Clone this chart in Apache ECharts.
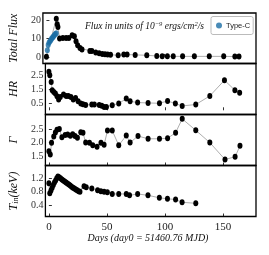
<!DOCTYPE html>
<html><head><meta charset="utf-8">
<script src="https://cdn.jsdelivr.net/npm/echarts@6/dist/echarts.min.js"></script>
<style>html,body{margin:0;padding:0;background:#fff}#c{width:269px;height:255px}</style>
</head><body><div id="c"></div>
<script>
const fluxDays = [0, 8.4, 9.2, 9.8, 11.2, 14, 16.8, 19.1, 21.9, 23.8, 25.2, 26.6, 28.6, 30.3, 37, 38.7, 42, 44.9, 47.6, 49.9, 52.1, 54.6, 61.1, 65.9, 68.7, 75.6, 85.5, 94, 98.6, 103, 108, 116, 126, 138.7, 151, 160.5, 164];
const fluxVals = [0.1, 20.9, 17.8, 16.3, 10.0, 10.4, 10.4, 10.4, 11.8, 11.3, 8.6, 6.4, 4.9, 4.0, 3.3, 3.2, 2.4, 2.0, 1.6, 1.5, 1.3, 1.2, 0.9, 1.3, 1.3, 1.1, 0.9, 0.5, 0.4, 0.3, 0.3, 0.3, 0.3, 0.3, 0.3, 0.2, 0.2];
const typeCDays = [0.8, 1.5, 2.2, 3.0, 3.8, 4.5, 5.3, 6.0, 6.8, 7.6, 8.4];
const typeCVals = [3.6, 6.5, 7.8, 8.6, 9.3, 10.0, 10.6, 11.2, 11.8, 12.5, 13.0];
const hrDays = [0, 0.8, 2, 2.9, 4.2, 5.6, 7, 8.4, 9.8, 12.6, 14.9, 16.8, 19, 21, 23, 25.2, 27.5, 29.4, 31.7, 37, 39.2, 43.4, 45.6, 47.6, 49.6, 54.6, 60.2, 66.7, 70, 76.5, 85.5, 95.3, 102.3, 109, 114.9, 126.6, 138.7, 151.3, 160.3, 164.4];
const hrVals = [2.74, 2.5, 2.02, 1.43, 1.31, 1.19, 1.0, 0.76, 0.95, 1.12, 1.02, 1.02, 0.95, 0.76, 0.88, 0.64, 0.48, 0.43, 0.38, 0.41, 0.41, 0.38, 0.33, 0.24, 0.24, 0.36, 0.48, 0.83, 0.64, 0.55, 0.52, 0.5, 0.66, 0.48, 0.31, 0.41, 1.02, 2.14, 1.43, 1.24];
const gammaDays = [0, 1.2, 2.3, 4.2, 5.6, 7, 9, 11.2, 14, 16.2, 18.5, 20.5, 22.5, 24.6, 27.5, 29.4, 31.7, 35, 37.8, 41.5, 44.9, 47.6, 50.5, 54.6, 60.2, 66.7, 70, 76.8, 85.5, 95.3, 102.3, 109.2, 114.9, 126.6, 138.7, 151.8, 160.5, 164.7];
const gammaVals = [1.68, 1.56, 1.99, 2.22, 2.37, 2.47, 2.5, 2.2, 2.28, 2.3, 2.25, 2.31, 2.24, 2.18, 2.38, 2.36, 2.0, 1.99, 1.9, 1.85, 1.99, 1.92, 2.44, 2.44, 1.9, 2.26, 2.0, 2.24, 2.14, 2.14, 2.16, 2.36, 2.87, 2.45, 2.0, 1.38, 1.48, 1.88];
const tinDays = [0, 0.8, 1.8, 2.8, 3.8, 4.8, 5.8, 6.8, 7.8, 8.8, 10, 11.2, 12.4, 13.6, 14.8, 16, 17.2, 18.4, 19.6, 20.8, 22, 23.2, 24.4, 25.6, 26.8, 30.3, 32.2, 37, 42, 44.8, 47.6, 50.4, 54.6, 60.2, 66.7, 69.5, 76.5, 85.4, 95.2, 102.2, 109.2, 114.8, 126.6];
const tinVals = [1.05, 0.76, 0.84, 0.92, 1.0, 1.07, 1.13, 1.19, 1.24, 1.22, 1.19, 1.16, 1.13, 1.1, 1.07, 1.04, 1.01, 0.98, 0.95, 0.92, 0.9, 0.87, 0.85, 0.82, 0.8, 0.96, 0.93, 0.9, 0.85, 0.82, 0.8, 0.79, 0.74, 0.74, 0.74, 0.7, 0.74, 0.7, 0.63, 0.6, 0.58, 0.5, 0.47];
const xTicks = [0, 50, 100, 150];
const fluxTicks = [0, 10, 20];
const hrTicks = [0.5, 1.5, 2.5];
const gammaTicks = [1.5, 2.0, 2.5];
const tinTicks = [0.4, 0.8, 1.2];

const zip = (a, b) => a.map((d, i) => [d, b[i]]);
const serif = 'Liberation Serif';
const panels = [
  {top: 13, h: 50.5, min: -3.6, max: 24, ticks: fluxTicks, name: 'Total Flux', fmt: v => String(v)},
  {top: 63.5, h: 51, min: -0.3, max: 3.33, ticks: hrTicks, name: 'HR', fmt: v => v.toFixed(1)},
  {top: 114.5, h: 51, min: 1.16, max: 3.03, ticks: gammaTicks, name: 'Γ', fmt: v => v.toFixed(1)},
  {top: 165.5, h: 51, min: 0.09, max: 1.56, ticks: tinTicks, name: '{i|T}{s|in}{i|(keV)}', fmt: v => v.toFixed(1)}
];
const grid = panels.map(p => ({left: 40, right: 13, top: p.top, height: p.h, show: true, borderColor: '#000', borderWidth: 1.3, backgroundColor: 'transparent'}));
const xAxis = panels.map((p, i) => ({
  type: 'value', gridIndex: i, min: -3, max: 178.5,
  splitLine: {show: false}, axisLine: {show: false},
  axisTick: {show: true, inside: true, length: 3, customValues: xTicks, lineStyle: {color: '#000', width: 0.8}},
  axisLabel: {show: i === 3, customValues: xTicks, fontFamily: serif, fontSize: 11, color: '#222', margin: 5}
}));
const yAxis = panels.map((p, i) => ({
  type: 'value', gridIndex: i, min: p.min, max: p.max,
  splitLine: {show: false}, axisLine: {show: false},
  axisTick: {show: true, inside: true, length: 3, customValues: p.ticks, lineStyle: {color: '#000', width: 0.8}},
  axisLabel: {customValues: p.ticks, formatter: p.fmt, fontFamily: serif, fontSize: 10, color: '#333', margin: 2},
  name: p.name, nameLocation: 'middle', nameRotate: 90, nameGap: 12,
  nameTextStyle: {fontFamily: serif, fontStyle: 'italic', fontSize: 12, color: '#111',
    rich: {i: {fontFamily: serif, fontStyle: 'italic', fontSize: 12, color: '#111'}, s: {fontFamily: serif, fontStyle: 'italic', fontSize: 8, color: '#111', verticalAlign: 'bottom'}}}
}));
const mk = (name, xi, data, color, line) => ({
  name, type: line ? 'line' : 'scatter', xAxisIndex: xi, yAxisIndex: xi, data,
  symbol: 'circle', symbolSize: [5, 6], itemStyle: {color},
  lineStyle: {color: '#999', width: 0.8}, showSymbol: true, animation: false, z: line ? 2 : 3
});
const option = {
  animation: false,
  grid, xAxis, yAxis,
  legend: {data: [{name: 'Type-C', icon: 'circle'}], left: 211, top: 16.5, borderColor: '#bbb', borderWidth: 1, borderRadius: 2,
    padding: [5, 3, 5, 5], itemWidth: 6, itemHeight: 6, itemGap: 4,
    textStyle: {fontFamily: 'Liberation Sans', fontSize: 7.5, color: '#222', padding: [0, 0, 0, -1]}},
  series: [
    mk('Total', 0, zip(fluxDays, fluxVals), '#000', true),
    mk('Type-C', 0, zip(typeCDays, typeCVals), '#1b6ea5', false),
    mk('HR', 1, zip(hrDays, hrVals), '#000', true),
    mk('Gamma', 2, zip(gammaDays, gammaVals), '#000', true),
    mk('Tin', 3, zip(tinDays, tinVals), '#000', true)
  ],
  graphic: [
    {type: 'text', left: 85, top: 21, style: {
      text: '{a|Flux in units of 10}{b|−9}{a| ergs/cm}{b|2}{a|/s}',
      rich: {a: {fontFamily: serif, fontStyle: 'italic', fontSize: 9.5, fill: '#111'}, b: {fontFamily: serif, fontStyle: 'italic', fontSize: 6.5, fill: '#111', verticalAlign: 'top'}}}},
    {type: 'text', x: 148, y: 233, style: {text: 'Days (day0 = 51460.76 MJD)', align: 'center', fontFamily: serif, fontStyle: 'italic', fontSize: 10, fill: '#111'}}
  ]
};
const chart = echarts.init(document.getElementById('c'), null, {renderer: 'canvas'});
chart.setOption(option);
</script></body></html>
